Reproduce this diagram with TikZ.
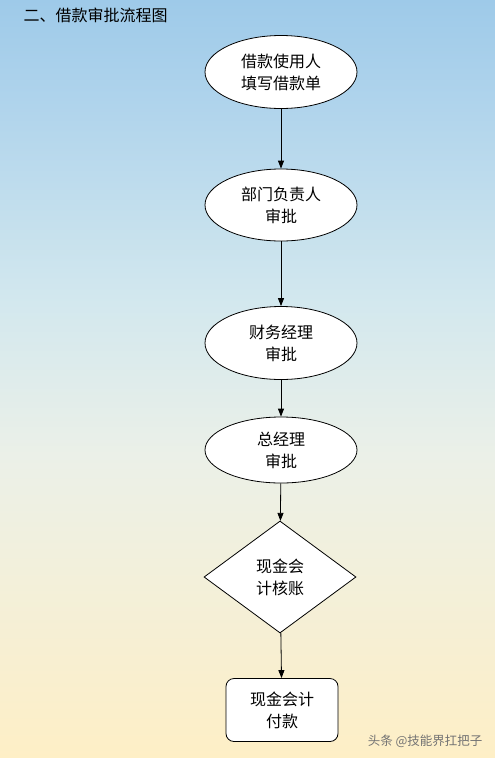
\documentclass[tikz,border=0pt]{standalone}
\usepackage{fontspec}
\setmainfont{Noto Sans CJK SC}
\usepackage{tikz}
\usetikzlibrary{positioning, arrows.meta, shapes.geometric}

\definecolor{skytop}{RGB}{158,202,233}
\definecolor{skyblue}{RGB}{176,212,236}
\definecolor{skylight}{RGB}{211,232,238}
\definecolor{palemid}{RGB}{235,240,232}
\definecolor{sandbot}{RGB}{254,239,198}
\pgfdeclareverticalshading{backsky}{100bp}{color(0bp)=(sandbot); color(25bp)=(sandbot); color(45bp)=(palemid); color(55bp)=(skylight); color(68bp)=(skyblue); color(75bp)=(skytop); color(100bp)=(skytop)}

\begin{document}
\begin{tikzpicture}[
    x=1pt, y=1pt,
    oval/.style={ellipse, draw, line width=0.8pt, fill=white, minimum width=152pt, minimum height=#1, inner sep=0pt, align=center, font=\fontsize{16}{22}\selectfont},
    oval/.default=73pt,
    rhomb/.style={diamond, draw, line width=0.8pt, fill=white, minimum width=152pt, minimum height=112pt, inner sep=0pt, align=center, font=\fontsize{16}{22}\selectfont},
    rbox/.style={rectangle, draw, line width=0.8pt, rounded corners=8pt, fill=white, minimum width=112pt, minimum height=63pt, align=center, font=\fontsize{16}{22}\selectfont},
    arr/.style={-{Triangle[length=8pt, width=6pt]}, line width=0.8pt},
]

% Background
\shade[shading=backsky] (0,0) rectangle (495,-758);
\useasboundingbox (0,0) rectangle (495,-758);

% Title
\node[anchor=west, font=\fontsize{16}{18}\selectfont] (title) at (20,-15) {二、借款审批流程图};

% Borrower fills form
\node[oval] (fill) at (281,-72) {借款使用人\\填写借款单};

% Department head
\node[oval=72pt] (dept) at (281,-205) {部门负责人\\审批};

% Finance manager
\node[oval] (fin) at (281,-343) {财务经理\\审批};

% General manager
\node[oval=66pt] (gm) at (281,-450) {总经理\\审批};

% Cashier check
\node[rhomb] (check) at (280,-577) {现金会\\计核账};

% Payment
\node[rbox] (pay) at (282,-710) {现金会计\\付款};

% Arrows
\draw[arr] (fill) -- (dept);
\draw[arr] (dept) -- (fin);
\draw[arr] (fin) -- (gm);
\draw[arr] (gm) -- (check);
\draw[arr] (check) -- (pay);

% Watermark
\node[anchor=east, font=\fontsize{12.5}{14}\selectfont, text=gray!90!black] (mark) at (486,-741) {头条 @技能界扛把子};

\end{tikzpicture}
\end{document}
